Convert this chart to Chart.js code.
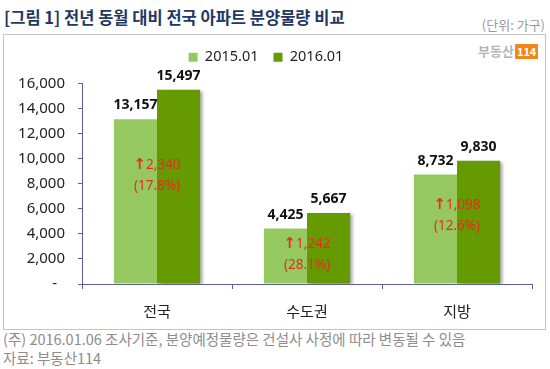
<!DOCTYPE html>
<html>
<head>
<meta charset="utf-8">
<script src="https://cdn.jsdelivr.net/npm/chart.js@4"></script>
<style>
    body { margin: 0; width: 550px; height: 369px; background: #fff; position: relative; overflow: hidden; font-family: "Noto Sans CJK KR", "Noto Sans", sans-serif; }
    #title { position: absolute; left: 4px; top: 5px; font-size: 16.5px; font-weight: bold; color: #1f3864; white-space: nowrap; }
    #unit { position: absolute; right: 5px; top: 15px; font-size: 13px; color: #9a9a9a; }
    #frame { position: absolute; left: 3px; top: 34px; width: 541px; height: 294px; border: 1px solid #c4c4c4; }
    #logo { position: absolute; left: 478px; top: 41px; font-size: 13px; font-weight: bold; color: #b5b5b5; white-space: nowrap; }
    #logo span { display: inline-block; background: #f0881c; color: #fff; font-size: 11px; padding: 0 2px; line-height: 15px; margin-left: 1px; }
    #note { position: absolute; left: 3px; top: 329px; font-size: 14.5px; color: #8c8c8c; line-height: 19px; white-space: nowrap; }
    canvas { position: absolute; left: 0; top: 0; }
</style>
</head>
<body>
<div id="title">[그림 1] 전년 동월 대비 전국 아파트 분양물량 비교</div>
<div id="unit">(단위: 가구)</div>
<div id="frame"></div>
<div id="logo">부동산<span>114</span></div>
<div id="note">(주) 2016.01.06 조사기준, 분양예정물량은 건설사 사정에 따라 변동될 수 있음<br>자료: 부동산114</div>
<canvas id="chart" width="550" height="369"></canvas>

<script>
// Chart data
const regions = ['전국', '수도권', '지방'];
const seriesNames = ['2015.01', '2016.01'];
const values2015 = [13157, 4425, 8732];
const values2016 = [15497, 5667, 9830];
const yTicks = [0, 2000, 4000, 6000, 8000, 10000, 12000, 14000, 16000];

const lightGreen = '#95c95f';
const darkGreen = '#659a00';

function fmt(n) {
    return n.toLocaleString('en-US');
}

// Add a little space under the legend
const legendGap = {
    id: 'legendGap',
    beforeInit(chart) {
        const fit = chart.legend.fit;
        chart.legend.fit = function() {
            fit.bind(chart.legend)();
            this.height += 9;
        };
    }
};

// Shadow on the dark bars only
const barShadow = {
    id: 'barShadow',
    beforeDatasetDraw(chart, args) {
        const ctx = chart.ctx;
        ctx.save();
        if (args.index === 1) {
            ctx.shadowColor = 'rgba(0,0,0,0.35)';
            ctx.shadowOffsetX = 3;
            ctx.shadowOffsetY = 1;
            ctx.shadowBlur = 3;
        }
    },
    afterDatasetDraw(chart) {
        chart.ctx.restore();
    }
};

// Value labels + change annotations
const barLabels = {
    id: 'barLabels',
    afterDatasetsDraw(chart) {
        const ctx = chart.ctx;
        ctx.save();
        ctx.textAlign = 'center';
        ctx.textBaseline = 'middle';

        // values above bars
        ctx.font = 'bold 14px "Noto Sans", sans-serif';
        ctx.fillStyle = '#111';
        chart.data.datasets.forEach((ds, di) => {
            const meta = chart.getDatasetMeta(di);
            meta.data.forEach((bar, i) => {
                ctx.fillText(fmt(ds.data[i]), bar.x, bar.y - 14);
            });
        });

        // change vs last year, inside bars
        const yScale = chart.scales.y;
        const m0 = chart.getDatasetMeta(0);
        const m1 = chart.getDatasetMeta(1);
        ctx.fillStyle = '#e0301e';
        regions.forEach((r, i) => {
            const a = values2015[i];
            const b = values2016[i];
            const diff = b - a;
            const pct = (diff / a * 100).toFixed(1);
            const x = (m0.data[i].x + m1.data[i].x) / 2;
            const y = yScale.getPixelForValue(a * 0.72);
            const num = fmt(diff);
            ctx.font = '13.5px "Noto Sans", sans-serif';
            const wNum = ctx.measureText(num).width;
            ctx.font = 'bold 15px "DejaVu Sans", sans-serif';
            const wArr = ctx.measureText('↑').width;
            const left = x - (wNum + wArr) / 2;
            ctx.textAlign = 'left';
            ctx.fillText('↑', left, y);
            ctx.font = '13.5px "Noto Sans", sans-serif';
            ctx.fillText(num, left + wArr, y);
            ctx.textAlign = 'center';
            ctx.fillText('(' + pct + '%)', x, y + 21);
        });
        ctx.restore();
    }
};

new Chart(document.getElementById('chart'), {
    type: 'bar',
    data: {
        labels: regions,
        datasets: [
            {
                label: seriesNames[0],
                data: values2015,
                backgroundColor: lightGreen
            },
            {
                label: seriesNames[1],
                data: values2016,
                backgroundColor: darkGreen
            }
        ]
    },
    options: {
        responsive: false,
        animation: false,
        categoryPercentage: 0.575,
        barPercentage: 1,
        layout: {
            padding: { top: 35, right: 18, bottom: 36, left: 0 }
        },
        plugins: {
            legend: {
                position: 'top',
                labels: {
                    boxWidth: 9,
                    boxHeight: 9,
                    padding: 15,
                    color: '#222',
                    font: { size: 14.5, family: '"Noto Sans", sans-serif' }
                }
            },
            tooltip: { enabled: false }
        },
        scales: {
            x: {
                grid: {
                    drawOnChartArea: false,
                    drawTicks: true,
                    tickLength: 5,
                    color: '#5d5da3',
                    offset: true
                },
                border: { color: '#5d5da3', width: 1 },
                ticks: {
                    color: '#222',
                    padding: 13,
                    font: { size: 15, family: '"Noto Sans CJK KR", sans-serif' }
                }
            },
            y: {
                min: 0,
                max: 16000,
                afterBuildTicks(scale) {
                    scale.ticks = yTicks.map(v => ({ value: v }));
                },
                afterFit(scale) {
                    scale.width = 82;
                },
                grid: {
                    drawOnChartArea: false,
                    drawTicks: true,
                    tickLength: 4,
                    color: '#5d5da3'
                },
                border: { color: '#5d5da3', width: 1 },
                ticks: {
                    color: '#222',
                    padding: 13,
                    font: { size: 15, family: '"Noto Sans", sans-serif' },
                    callback: v => v === 0 ? '-  ' : fmt(v)
                }
            }
        }
    },
    plugins: [legendGap, barShadow, barLabels]
});
</script>
</body>
</html>
